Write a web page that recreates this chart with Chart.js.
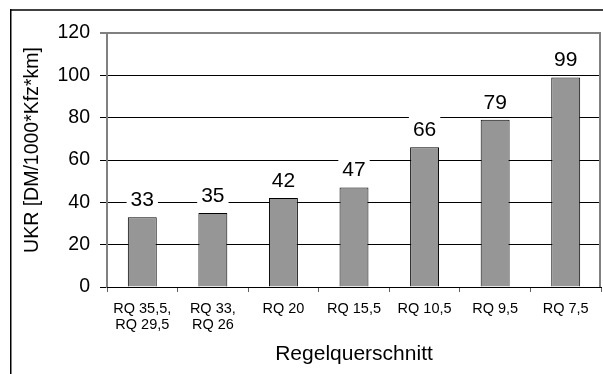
<!DOCTYPE html>
<html>
<head>
<meta charset="utf-8">
<script src="https://cdn.jsdelivr.net/npm/chart.js@4/dist/chart.umd.min.js"></script>
<style>
  html, body { margin: 0; padding: 0; background: #fff; }
  canvas { display: block; }
</style>
</head>
<body>
<canvas id="c" width="603" height="374"></canvas>
<script>
// Unfallkostenrate je Regelquerschnitt
const categories = [
  ['RQ 35,5,', 'RQ 29,5'],
  ['RQ 33,', 'RQ 26'],
  'RQ 20',
  'RQ 15,5',
  'RQ 10,5',
  'RQ 9,5',
  'RQ 7,5'
];
const ukrValues = [33, 35, 42, 47, 66, 79, 99];
const yTicks = [0, 20, 40, 60, 80, 100, 120];
const yTitle = 'UKR [DM/1000*Kfz*km]';
const xTitle = 'Regelquerschnitt';

const FONT = '"Liberation Sans", Arial, sans-serif';

// outer frame, right plot border, rotated y title
const framePlugin = {
  id: 'frame',
  beforeDraw(chart) {
    const ctx = chart.ctx;
    ctx.save();
    ctx.fillStyle = '#fff';
    ctx.fillRect(0, 0, chart.width, chart.height);
    ctx.fillStyle = '#404040';
    ctx.fillRect(10, 9, chart.width - 10, 2);
    ctx.fillStyle = '#000';
    ctx.fillRect(10, 9, 1.5, chart.height - 9);
    ctx.restore();
  },
  beforeDatasetsDraw(chart) {
    const ctx = chart.ctx;
    const a = chart.chartArea;
    ctx.save();
    ctx.strokeStyle = '#808080';
    ctx.lineWidth = 2;
    ctx.beginPath();
    ctx.moveTo(a.right - 1, a.top - 1);
    ctx.lineTo(a.right - 1, a.bottom);
    ctx.stroke();
    ctx.restore();
  },
  afterDraw(chart) {
    const ctx = chart.ctx;
    ctx.save();
    ctx.translate(33, 150);
    ctx.rotate(-Math.PI / 2);
    ctx.font = '19.5px ' + FONT;
    ctx.fillStyle = '#000';
    ctx.textAlign = 'center';
    ctx.textBaseline = 'middle';
    ctx.fillText(yTitle, 0, 0);
    ctx.restore();
  }
};

// value labels above the bars on a white box
const valueLabels = {
  id: 'valueLabels',
  afterDatasetsDraw(chart) {
    const ctx = chart.ctx;
    const meta = chart.getDatasetMeta(0);
    const data = chart.data.datasets[0].data;
    ctx.save();
    ctx.font = '21px ' + FONT;
    ctx.textAlign = 'center';
    ctx.textBaseline = 'middle';
    meta.data.forEach((bar, i) => {
      const txt = String(data[i]);
      const w = ctx.measureText(txt).width;
      const cy = bar.y - 18;
      ctx.fillStyle = '#fff';
      ctx.fillRect(bar.x - w / 2 - 4, cy - 13.5, w + 8, 26);
      ctx.fillStyle = '#000';
      ctx.fillText(txt, bar.x, cy + 1);
    });
    ctx.restore();
  }
};

new Chart(document.getElementById('c'), {
  type: 'bar',
  data: {
    labels: categories,
    datasets: [{
      data: ukrValues,
      backgroundColor: '#969696',
      borderColor: '#000',
      borderWidth: 1,
      barPercentage: 0.41,
      categoryPercentage: 1
    }]
  },
  options: {
    responsive: false,
    animation: false,
    devicePixelRatio: 1,
    layout: { padding: { left: 0, top: 33, right: 2, bottom: 0 } },
    plugins: {
      legend: { display: false },
      tooltip: { enabled: false }
    },
    scales: {
      y: {
        min: 0,
        max: 120,
        afterBuildTicks(scale) {
          scale.ticks = yTicks.map(v => ({ value: v }));
        },
        afterFit(scale) { scale.width = 107; },
        ticks: {
          color: '#000',
          font: { family: FONT, size: 19.5 },
          padding: 10
        },
        grid: {
          color: c => (c.tick && c.tick.value === 120) ? '#808080' : '#000',
          lineWidth: c => (c.tick && c.tick.value === 120) ? 2 : 1,
          tickLength: 7
        },
        border: { color: '#808080', width: 2 }
      },
      x: {
        afterFit(scale) { scale.height = 87; },
        ticks: {
          color: '#000',
          font: { family: FONT, size: 14.5, lineHeight: 1.1 },
          padding: 9,
          maxRotation: 0,
          autoSkip: false
        },
        grid: {
          drawOnChartArea: false,
          offset: true,
          tickLength: 5,
          color: '#606060'
        },
        border: { color: '#000', width: 1 },
        title: {
          display: true,
          text: xTitle,
          color: '#000',
          font: { family: FONT, size: 21 },
          padding: { top: 0, bottom: 7 }
        }
      }
    }
  },
  plugins: [framePlugin, valueLabels]
});
</script>
</body>
</html>
